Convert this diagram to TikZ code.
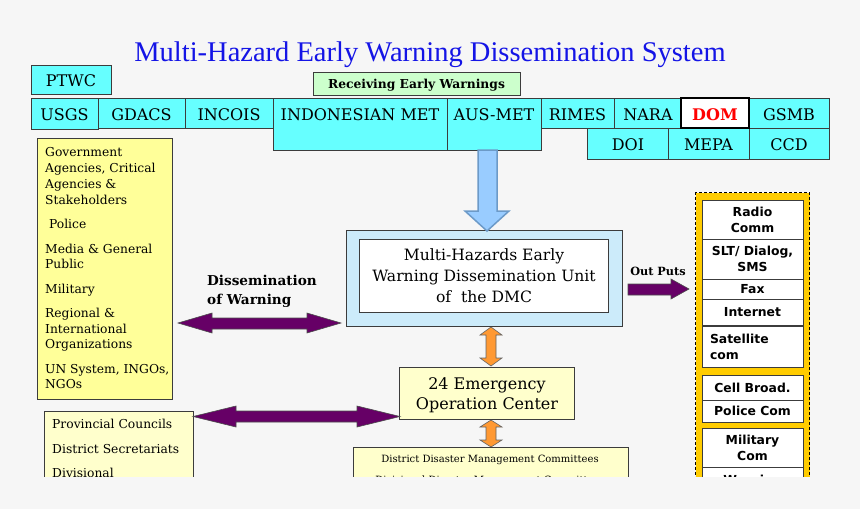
\documentclass[tikz,border=0pt]{standalone}
\usepackage{fontspec}
\setmainfont{DejaVu Serif}
\newfontfamily\titlefont{Liberation Serif}
\newfontfamily\boldsans{DejaVu Sans}
\definecolor{bg}{HTML}{F6F6F6}
\definecolor{edge}{HTML}{3C3C3C}
\definecolor{cyanf}{HTML}{66FFFF}
\definecolor{greenf}{HTML}{CCFFCC}
\definecolor{yelf}{HTML}{FFFF99}
\definecolor{lyelf}{HTML}{FFFFCC}
\definecolor{dmcf}{HTML}{CCEBFA}
\definecolor{arrowblue}{HTML}{99CCFF}
\definecolor{arrowblueedge}{HTML}{6C9AC8}
\definecolor{purplef}{HTML}{660066}
\definecolor{orangef}{HTML}{FF9933}
\definecolor{goldf}{HTML}{FFCC00}
\definecolor{titleblue}{HTML}{1414E6}
\newcommand\myfs[2]{\fontsize{#1}{#2}\selectfont}
\newcommand\abox[6]{\node[#2,anchor=north west,minimum width={#5-#3},minimum height={#6-#4}] (#1) at (#3,#4) {};}
\tikzset{
  basebox/.style={draw=edge,line width=1pt,inner sep=0pt,outer sep=0pt},
  cbox/.style={basebox,fill=cyanf},
  gbox/.style={basebox,fill=greenf},
  ybox/.style={basebox,fill=yelf},
  lybox/.style={basebox,fill=lyelf},
  wbox/.style={basebox,fill=white},
  dmcbox/.style={basebox,fill=dmcf},
  dombox/.style={draw=black,line width=2pt,fill=white,inner sep=0pt,outer sep=0pt},
  goldbox/.style={draw=black,line width=1pt,dash pattern=on 3pt off 2pt,fill=goldf,inner sep=0pt},
  rbox/.style={basebox,fill=white,align=center,font=\boldsans\bfseries\myfs{12.4}{16}},
  tx/.style={inner sep=0pt,anchor=base},
  toptx/.style={tx,font=\myfs{16}{19}},
  ltx/.style={inner sep=0pt,anchor=base west,font=\myfs{12.3}{15}},
  purplearrow/.style={fill=purplef,draw=black!70,line width=0.6pt},
  orangearrow/.style={fill=orangef,draw=edge!80,line width=0.6pt},
  bluearrow/.style={fill=arrowblue,draw=arrowblueedge,line width=1.5pt,line join=miter}
}
\begin{document}
\begin{tikzpicture}[x=1pt,y=-1pt]
\fill[bg] (0,0) rectangle (860,509);
\useasboundingbox (0,0) rectangle (860,509);
\begin{scope}
\clip (0,0) rectangle (860,476);
% title
\node[tx,font=\titlefont\myfs{28.5}{32},text=titleblue] (title) at (430,61) {Multi-Hazard Early Warning Dissemination System};
% sources
\abox{ptwc}{cbox}{31}{65}{111}{94}
\node[toptx] (tptwc) at (71,86) {PTWC};
\abox{recv}{gbox}{313}{72}{520}{95}
\node[tx,font=\bfseries\myfs{12.3}{14}] (trecv) at (416.5,88) {Receiving Early Warnings};
\abox{usgs}{cbox}{31}{98}{98}{129}
\abox{gdacs}{cbox}{98}{98}{185}{128}
\abox{incois}{cbox}{185}{98}{273}{128}
\abox{indo}{cbox}{273}{98}{447}{150}
\abox{aus}{cbox}{447}{98}{541}{150}
\abox{rimes}{cbox}{541}{98}{614}{128}
\abox{nara}{cbox}{614}{98}{681}{128}
\abox{gsmb}{cbox}{749}{98}{829}{128}
\abox{doi}{cbox}{587}{128}{668}{159}
\abox{mepa}{cbox}{668}{128}{749}{159}
\abox{ccd}{cbox}{749}{128}{829}{159}
\abox{dom}{dombox}{681}{98}{749}{128}
\node[toptx] (tusgs) at (64.5,120) {USGS};
\node[toptx] (tgdacs) at (141.5,120) {GDACS};
\node[toptx] (tincois) at (229,120) {INCOIS};
\node[toptx] (tindo) at (360,120) {INDONESIAN MET};
\node[toptx] (taus) at (494,120) {AUS-MET};
\node[toptx] (trimes) at (577.5,120) {RIMES};
\node[toptx] (tnara) at (648,120) {NARA};
\node[tx,font=\bfseries\myfs{16}{19},text=red] (tdom) at (715,120) {DOM};
\node[toptx] (tgsmb) at (789,120) {GSMB};
\node[toptx] (tdoi) at (628,150) {DOI};
\node[toptx] (tmepa) at (708.5,150) {MEPA};
\node[toptx] (tccd) at (789,150) {CCD};
% DMC unit
\abox{dmc}{dmcbox}{346}{230}{622}{326}
\abox{dmcin}{wbox}{359}{239}{608}{312}
\node[tx,font=\myfs{15.6}{19}] (td1) at (484,260) {Multi-Hazards Early};
\node[tx,font=\myfs{15.6}{19}] (td2) at (484,281) {Warning Dissemination Unit};
\node[tx,font=\myfs{15.6}{19}] (td3) at (484,302) {of\ \ the DMC};
% blue arrow
\draw[bluearrow] (478,150) -- (497,150) -- (497,211) -- (509,211) -- (487,231) -- (465,211) -- (478,211) -- cycle;
% left stakeholders box
\abox{stake}{ybox}{37}{138}{172}{399}
\foreach \t/\yy [count=\i] in {Government/156, {Agencies, Critical}/172, {Agencies \&}/188, Stakeholders/204, {\ Police}/228, {Media \& General}/253, Public/268, Military/293, {Regional \&}/317, International/333, Organizations/348, {UN System, INGOs,}/373, NGOs/388}
  \node[ltx] (st\i) at (45,\yy) {\t};
\node[inner sep=0pt,anchor=base west,font=\bfseries\myfs{13.6}{16}] (dw1) at (207,285) {Dissemination};
\node[inner sep=0pt,anchor=base west,font=\bfseries\myfs{13.6}{16}] (dw2) at (207,304) {of Warning};
\draw[purplearrow] (178,323) -- (212,313) -- (212,318) -- (307,318) -- (307,313) -- (341,323) -- (307,333) -- (307,329) -- (212,329) -- (212,333) -- cycle;
% outputs arrow
\node[tx,font=\bfseries\myfs{11.3}{13}] (outp) at (658,275) {Out Puts};
\draw[purplearrow] (628,284) -- (671,284) -- (671,279) -- (689,289) -- (671,299) -- (671,295) -- (628,295) -- cycle;
% EOC
\draw[orangearrow] (491,327) -- (502,335) -- (496,335) -- (496,358) -- (502,358) -- (491,366) -- (480,358) -- (486,358) -- (486,335) -- (480,335) -- cycle;
\abox{eoc}{lybox}{399}{367}{574}{419}
\node[tx,font=\myfs{16}{19}] (te1) at (487,389) {24 Emergency};
\node[tx,font=\myfs{16}{19}] (te2) at (487,409) {Operation Center};
\draw[orangearrow] (491,420) -- (502,427) -- (496,427) -- (496,440) -- (502,440) -- (491,447) -- (480,440) -- (486,440) -- (486,427) -- (480,427) -- cycle;
\abox{ddmc}{lybox}{353}{447}{628}{500}
\node[tx,font=\myfs{10}{12}] (tdd1) at (490,462) {District Disaster Management Committees};
\node[tx,font=\myfs{10}{12}] (tdd2) at (490,483) {Divisional Disaster Management Committees};
% provincial box
\abox{prov}{lybox}{44}{411}{193}{500}
\node[ltx] (pv1) at (52,428) {Provincial Councils};
\node[ltx] (pv2) at (52,453) {District Secretariats};
\node[ltx] (pv3) at (52,477) {Divisional};
\draw[purplearrow] (193,416.5) -- (236,406) -- (236,411) -- (357,411) -- (357,406) -- (400,416.5) -- (357,427) -- (357,422) -- (236,422) -- (236,427) -- cycle;
% right output column
\abox{outcol}{goldbox}{695}{192}{809}{520}
\abox{radio}{rbox}{702}{200}{803}{239}
\node[rbox,draw=none,fill=none] at (radio.center) (tradio) {Radio\\Comm};
\abox{slt}{rbox}{702}{239}{803}{279}
\node[rbox,draw=none,fill=none] at (slt.center) (tslt) {SLT/ Dialog,\\SMS};
\abox{fax}{rbox}{702}{279}{803}{299}
\node[rbox,draw=none,fill=none] at (fax.center) (tfax) {Fax};
\abox{inet}{rbox}{702}{299}{803}{325}
\node[rbox,draw=none,fill=none] at (inet.center) (tinet) {Internet};
\abox{sat}{rbox}{702}{326}{803}{367}
\node[rbox,draw=none,fill=none,align=left,anchor=west] at (710,346.5) (tsat) {Satellite\\com};
\abox{cell}{rbox}{702}{375}{803}{400}
\node[rbox,draw=none,fill=none] at (cell.center) (tcell) {Cell Broad.};
\abox{police}{rbox}{702}{400}{803}{422}
\node[rbox,draw=none,fill=none] at (police.center) (tpolice) {Police Com};
\abox{mil}{rbox}{702}{428}{803}{467}
\node[rbox,draw=none,fill=none] at (mil.center) (tmil) {Military\\Com};
\abox{warn}{rbox}{702}{467}{803}{510}
\node[tx,font=\boldsans\bfseries\myfs{12.4}{16}] (twarn) at (752.5,484) {Warning};
\end{scope}
\end{tikzpicture}
\end{document}
